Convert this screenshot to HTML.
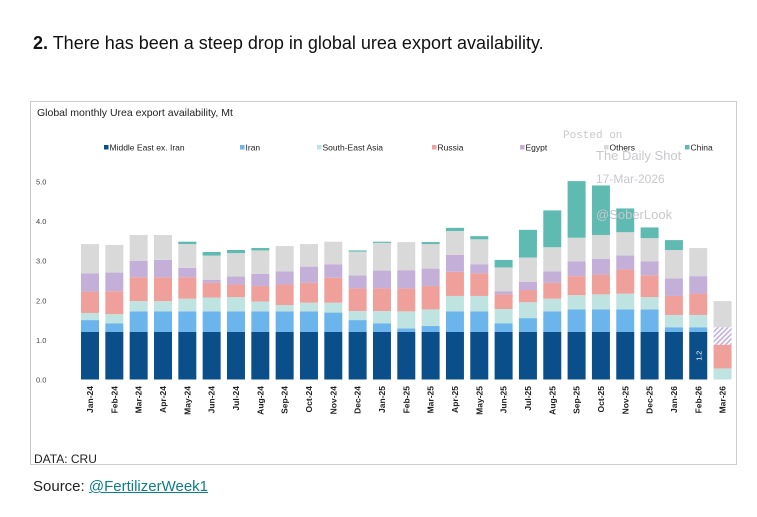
<!DOCTYPE html>
<html><head><meta charset="utf-8">
<style>
body{margin:0;background:#fff;width:757px;height:517px;overflow:hidden;font-family:"Liberation Sans",Arial,sans-serif;}
#h{position:absolute;left:33px;top:33px;font-size:18px;color:#111;}
#box{position:absolute;left:30px;top:101px;width:707px;height:364px;border:1px solid #ccc;box-sizing:border-box;}
#src{position:absolute;left:33px;top:478px;font-size:15px;color:#222;}
#src a{color:#0a7f8a;text-decoration:underline;}
</style></head><body>
<div id="h"><b>2.</b> There has been a steep drop in global urea export availability.</div>
<div id="box"></div>
<svg id="chart" width="757" height="517" style="position:absolute;left:0;top:0">
<defs><pattern id="hatch" width="3.5" height="3.5" patternUnits="userSpaceOnUse" patternTransform="rotate(45)"><rect width="3.5" height="3.5" fill="#fff"/><rect width="1.6" height="3.5" fill="#c3afd8"/></pattern></defs>
<text x="37" y="116" font-size="10.5" fill="#222">Global monthly Urea export availability, Mt</text>
<g id="legend"></g><g id="axis"></g><g id="bars"></g><g id="xl"></g>
<text x="34" y="463" font-size="12" fill="#222">DATA: CRU</text>
<g fill="#c8c8cc" font-size="13">
<text x="563" y="138" font-family="Liberation Mono" font-size="11">Posted on</text>
<text x="596" y="160">The Daily Shot</text>
<text x="596" y="183" font-size="12">17-Mar-2026</text>
<text x="596" y="219">@SoberLook</text></g>
</svg>
<div id="src">Source: <a>@FertilizerWeek1</a></div>
<script>
const categories=["Jan-24","Feb-24","Mar-24","Apr-24","May-24","Jun-24","Jul-24","Aug-24","Sep-24","Oct-24","Nov-24","Dec-24","Jan-25","Feb-25","Mar-25","Apr-25","May-25","Jun-25","Jul-25","Aug-25","Sep-25","Oct-25","Nov-25","Dec-25","Jan-26","Feb-26","Mar-26"];
const seriesNames=["Middle East ex. Iran","Iran","South-East Asia","Russia","Egypt","Others","China"];
const middleEast=[1.2,1.2,1.2,1.2,1.2,1.2,1.2,1.2,1.2,1.2,1.2,1.2,1.2,1.2,1.2,1.2,1.2,1.2,1.2,1.2,1.2,1.2,1.2,1.2,1.2,1.2,0];
const iran=[.30,.22,.52,.52,.52,.52,.52,.52,.52,.52,.49,.30,.22,.09,.15,.52,.52,.22,.35,.52,.57,.57,.57,.57,.12,.12,0];
const seAsia=[.18,.23,.26,.26,.32,.35,.36,.25,.16,.22,.25,.23,.31,.43,.42,.39,.39,.36,.40,.32,.36,.38,.40,.31,.31,.31,.28];
const russia=[.54,.58,.60,.60,.54,.37,.32,.39,.52,.50,.63,.57,.57,.58,.59,.61,.57,.37,.31,.40,.48,.50,.61,.55,.48,.54,.60];
const egypt=[.46,.47,.42,.44,.24,.08,.20,.31,.33,.41,.34,.33,.45,.46,.44,.43,.23,.08,.21,.29,.37,.40,.35,.35,.44,.44,.44];
const others=[.74,.70,.65,.63,.60,.61,.59,.59,.64,.57,.57,.60,.70,.71,.62,.60,.63,.60,.61,.61,.60,.60,.59,.59,.72,.71,.66];
const china=[0,0,0,0,.06,.09,.08,.06,0,0,0,.03,.03,0,.05,.08,.08,.19,.70,.93,1.43,1.25,.60,.27,.25,0,0];
const yTicks=[0,1,2,3,4,5];
const series=[middleEast,iran,seAsia,russia,egypt,others,china];
const colors=["#0b4f8a","#6cb4ec","#bfe3e0","#f0a09a","#c3afd8","#d9d9d9","#5fbab2"];
const NS="http://www.w3.org/2000/svg";
const y=v=>379.5-v*39.6;
const x=i=>81+i*24.33;
const bw=18;
function mk(t,a,p){const e=document.createElementNS(NS,t);for(const k in a)e.setAttribute(k,a[k]);p.appendChild(e);return e;}
const ax=document.getElementById('axis');
yTicks.forEach(t=>{const e=mk('text',{x:36,y:y(t)+3,'font-size':7.5,fill:'#444'},ax);e.textContent=t.toFixed(1);

});
const lg=document.getElementById('legend');
const lx=[104,240,317,432,520,604,685];
seriesNames.forEach((n,k)=>{const g=mk('g',{},lg);


mk('rect',{x:lx[k],y:145,width:4.5,height:4.5,fill:colors[k]},g);
const t=mk('text',{x:lx[k]+5.5,y:150.5,'font-size':8.5,fill:'#222'},g);t.textContent=n;});
const bg=document.getElementById('bars'),xl=document.getElementById('xl');
categories.forEach((c,i)=>{let cum=0;
series.forEach((s,k)=>{const v=s[i];if(v<=0)return;
const fill=(k==4&&i==categories.length-1)?'url(#hatch)':colors[k];
const r=mk('rect',{x:x(i),y:y(cum+v),width:bw,height:y(cum)-y(cum+v),fill:fill},bg);


cum+=v;});
const t=mk('text',{transform:`translate(${x(i)+bw/2+3},386) rotate(-90)`,'font-size':8.5,'font-weight':'bold','text-anchor':'end',fill:'#222'},xl);t.textContent=c;

});
const li=categories.length-2;
const lb=mk('text',{transform:`translate(${x(li)+bw/2+3},${y(middleEast[li]/2)}) rotate(-90)`,'font-size':7,fill:'#fff','text-anchor':'middle'},bg);lb.textContent=middleEast[li].toFixed(1);


</script>
</body></html>
